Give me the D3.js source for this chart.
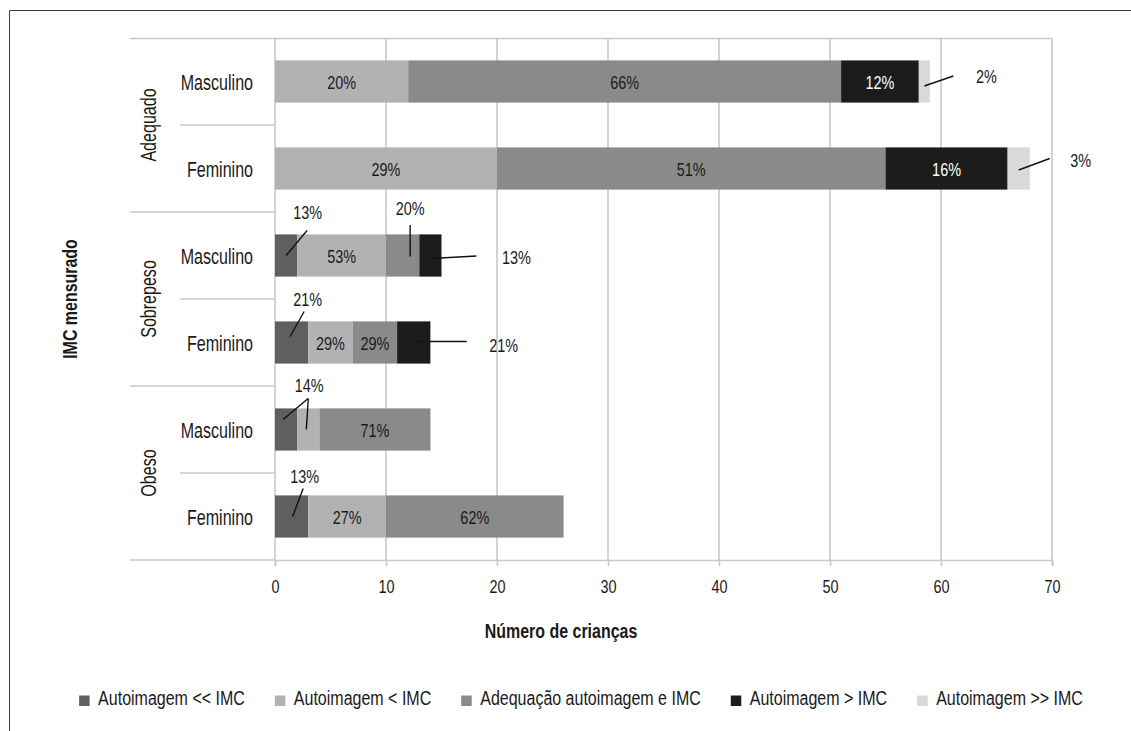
<!DOCTYPE html>
<html><head><meta charset="utf-8">
<script src="https://cdn.jsdelivr.net/npm/d3@7/dist/d3.min.js"></script>
<style>
html,body{margin:0;padding:0;background:#fff;}
svg text{font-family:"Liberation Sans",Arial,sans-serif;fill:#1a1a1a;}
</style></head>
<body><svg id="chart" width="1131" height="731"></svg>
<script>
// ---- data ----
const groups = ["Adequado", "Sobrepeso", "Obeso"];
const sexes = ["Masculino", "Feminino"];
const seriesNames = ["Autoimagem << IMC", "Autoimagem < IMC", "Adequação autoimagem e IMC", "Autoimagem > IMC", "Autoimagem >> IMC"];
// rows: Adequado M, Adequado F, Sobrepeso M, Sobrepeso F, Obeso M, Obeso F
const muitoMenor = [0, 0, 2, 3, 2, 3];
const menor      = [12, 20, 8, 4, 2, 7];
const adequacao  = [39, 35, 3, 4, 10, 16];
const maior      = [7, 11, 2, 3, 0, 0];
const muitoMaior = [1, 2, 0, 0, 0, 0];
const pctMuitoMenor = [null, null, "13%", "21%", "14%", "13%"];
const pctMenor      = ["20%", "29%", "53%", "29%", "14%", "27%"];
const pctAdequacao  = ["66%", "51%", "20%", "29%", "71%", "62%"];
const pctMaior      = ["12%", "16%", "13%", "21%", null, null];
const pctMuitoMaior = ["2%", "3%", null, null, null, null];
const xTicks = [0, 10, 20, 30, 40, 50, 60, 70];
const xTitle = "Número de crianças";
const yTitle = "IMC mensurado";

// ---- layout / style ----
const colors = ["#5f5f5f", "#b2b2b2", "#8a8a8a", "#1c1c1c", "#d9d9d9"];
const SX = 0.8; // horizontal condensing of the sans font
// callouts: [row, seriesIndex, leader start dx,dy, leader end dx,dy, label dx,dy, drawText]
const callouts = [
  [0, 4, 0, 4.5, 29, -5.5, 62, -5.5, true],
  [1, 4, 0, 1.5, 31, -10, 62, -8.5, true],
  [2, 0, 0, 0, 21, -25, 21.5, -44, true],
  [2, 2, 7.5, 1, 7.5, -30.5, 7.5, -47.5, true],
  [2, 3, 1, 3, 46, 0.5, 86, 1.5, true],
  [3, 0, -1.5, -6, 12.5, -31, 16, -44, true],
  [3, 3, 4.5, -1, 53, -1, 90, 2, true],
  [4, 0, -3, -10, 22, -31, 23, -44.5, true],
  [4, 1, -2, 0, 0, -31, 0.7, -44.5, false],
  [5, 0, 1, 0, 11.5, -28, 13, -41, true]
];

const svg = d3.select("#chart");
function txt(parent, x, y, str, size, anchor, opts = {}) {
  const sx = opts.sx || SX;
  const t = parent.append("text")
    .attr("transform", `translate(${x},${y})` + (opts.rotate ? ` rotate(${opts.rotate})` : "") + ` scale(${sx},1)`)
    .attr("text-anchor", anchor).attr("font-size", size).text(str);
  if (opts.bold) t.attr("font-weight", "bold");
  if (opts.fill) t.style("fill", opts.fill);
  return t;
}

// outer frame
svg.append("path").attr("d", "M9.5,740 V10.5 H1140").attr("fill", "none").attr("stroke", "#3a3a3a").attr("stroke-width", 1);

const rowKeys = [];
groups.forEach(g => sexes.forEach(s => rowKeys.push(g + "|" + s)));
const seriesVals = [muitoMenor, menor, adequacao, maior, muitoMaior];
const seriesPct = [pctMuitoMenor, pctMenor, pctAdequacao, pctMaior, pctMuitoMaior];
const table = rowKeys.map((k, i) => {
  const o = {key: k, group: k.split("|")[0], sex: k.split("|")[1]};
  seriesNames.forEach((n, j) => o[n] = seriesVals[j][i]);
  return o;
});

const x = d3.scaleLinear().domain([0, 70]).range([275, 1052]);
const y = d3.scaleBand().domain(rowKeys).range([38, 560]).padding(0);
const barH = y.bandwidth() * 0.485;
const grid = "#c8c8c8";

// gridlines
svg.append("g").selectAll("line").data(xTicks).join("line")
  .attr("x1", d => x(d)).attr("x2", d => x(d))
  .attr("y1", 38).attr("y2", 560)
  .attr("stroke", grid).attr("stroke-width", 1.6);

// top line + category separators
svg.append("line").attr("x1", 130).attr("x2", x(70)).attr("y1", 38.5).attr("y2", 38.5).attr("stroke", grid).attr("stroke-width", 1.6);
rowKeys.forEach((k, i) => {
  if (i === 0) return;
  const yy = y(k);
  const isGroup = i % 2 === 0;
  svg.append("line").attr("x1", isGroup ? 130 : 180).attr("x2", x(0))
    .attr("y1", yy).attr("y2", yy).attr("stroke", grid).attr("stroke-width", 1.6);
});

// x axis
const xAxis = d3.axisBottom(x).tickValues(xTicks).tickSize(6).tickPadding(14);
const ax = svg.append("g").attr("transform", "translate(0,560)").call(xAxis);
ax.select(".domain").attr("stroke", grid).attr("stroke-width", 1.6);
ax.selectAll(".tick line").attr("stroke", grid).attr("stroke-width", 1.6);
ax.selectAll(".tick text").attr("font-size", 19).attr("font-family", null)
  .attr("transform", "scale(0.76,1)").style("fill", "#1a1a1a");
svg.append("line").attr("x1", 130).attr("x2", x(0)).attr("y1", 560).attr("y2", 560).attr("stroke", grid).attr("stroke-width", 1.6);

// bars
const stack = d3.stack().keys(seriesNames)(table);
const gBars = svg.append("g");
stack.forEach((layer, j) => {
  gBars.selectAll(null).data(layer).join("rect")
    .attr("x", d => x(d[0])).attr("width", d => x(d[1]) - x(d[0]))
    .attr("y", d => y(d.data.key) + (y.bandwidth() - barH) / 2).attr("height", barH)
    .attr("fill", colors[j]);
});

// inside labels
const calloutSet = new Set(callouts.map(c => c[0] + "_" + c[1]));
stack.forEach((layer, j) => {
  layer.forEach((d, i) => {
    const lbl = seriesPct[j][i];
    if (!lbl || calloutSet.has(i + "_" + j)) return;
    txt(svg, (x(d[0]) + x(d[1])) / 2, y(d.data.key) + y.bandwidth() / 2 + 7, lbl, 19, "middle",
      {fill: j === 3 ? "#ffffff" : "#1a1a1a", sx: 0.76});
  });
});

// callouts
callouts.forEach(c => {
  const [i, j, sx, sy, ex, ey, lx, ly, show] = c;
  const d = stack[j][i];
  const cx = (x(d[0]) + x(d[1])) / 2;
  const cy = y(d.data.key) + y.bandwidth() / 2;
  svg.append("line").attr("x1", cx + sx).attr("y1", cy + sy).attr("x2", cx + ex).attr("y2", cy + ey)
    .attr("stroke", "#111").attr("stroke-width", 1.4);
  if (show) txt(svg, cx + lx, cy + ly + 7, seriesPct[j][i], 19, "middle", {sx: 0.76});
});

// row labels
rowKeys.forEach(k => txt(svg, 253, y(k) + y.bandwidth() / 2 + 8, k.split("|")[1], 22, "end", {sx: 0.73}));
// group labels
groups.forEach(g => txt(svg, 156, y(g + "|" + sexes[1]), g, 22, "middle", {rotate: -90, sx: 0.73}));

// axis titles
txt(svg, 561, 638, xTitle, 21, "middle", {bold: true, sx: 0.76});
txt(svg, 77, 299, yTitle, 21, "middle", {bold: true, rotate: -90, sx: 0.76});

// legend
const leg = svg.append("g");
const items = seriesNames.map((n, j) => {
  const g = leg.append("g");
  g.append("rect").attr("x", 0).attr("y", -9.5).attr("width", 10.5).attr("height", 10.5).attr("fill", colors[j]);
  const t = txt(g, 19, 0, n, 20, "start", {sx: 0.8});
  return {g, w: 19 + t.node().getComputedTextLength() * 0.8};
});
const gap = 30;
const total = d3.sum(items, d => d.w) + gap * (items.length - 1);
let cx0 = 581 - total / 2;
items.forEach(it => { it.g.attr("transform", `translate(${cx0},705)`); cx0 += it.w + gap; });
</script></body></html>
